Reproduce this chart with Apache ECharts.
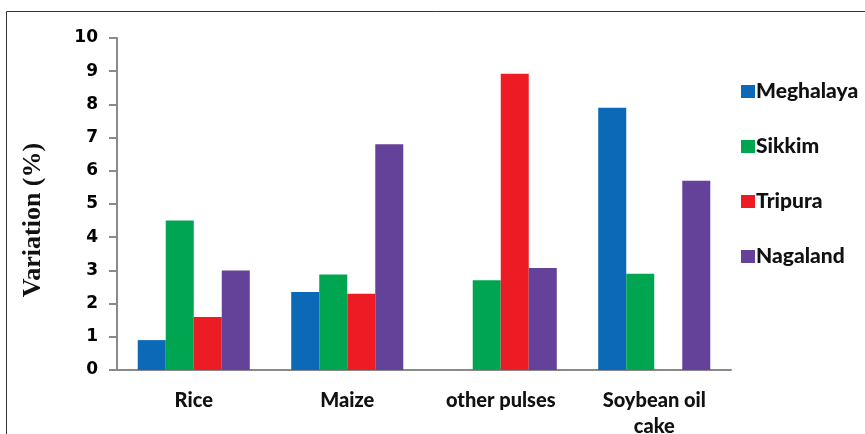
<!DOCTYPE html>
<html><head><meta charset="utf-8">
<script src="https://cdn.jsdelivr.net/npm/echarts@6/dist/echarts.min.js"></script>
<style>html,body{margin:0;padding:0;background:#fff}#c{width:865px;height:434px}</style>
</head><body><div id="c"></div>
<script>
var categories = ['Rice', 'Maize', 'other pulses', 'Soybean oil\ncake'];
var meghalaya = [0.9, 2.35, null, 7.9];
var sikkim = [4.5, 2.88, 2.7, 2.9];
var tripura = [1.6, 2.3, 8.92, null];
var nagaland = [3.0, 6.8, 3.07, 5.7];
var seriesNames = ['Meghalaya', 'Sikkim', 'Tripura', 'Nagaland'];
var yTicks = [0, 1, 2, 3, 4, 5, 6, 7, 8, 9, 10];

var colors = ['#0B69B7', '#00A551', '#ED1C24', '#65429A'];
var chart = echarts.init(document.getElementById('c'));
var data = [meghalaya, sikkim, tripura, nagaland];
chart.setOption({
  animation: false,
  color: colors,
  graphic: [
    {type: 'rect', shape: {x: 6.5, y: 11.5, width: 900, height: 600}, style: {fill: 'none', stroke: '#333', lineWidth: 1}, z: -1},
    {type: 'text', x: 33, y: 220, rotation: Math.PI / 2, style: {text: 'Variation (%)', font: 'bold 26px "Liberation Serif"', fill: '#111', textAlign: 'center', textVerticalAlign: 'middle'}}
  ],
  legend: {
    orient: 'vertical', left: 736, top: 76, itemGap: 34, itemWidth: 14, itemHeight: 13,
    icon: 'rect',
    textStyle: {fontFamily: 'Lato', fontWeight: 900, fontSize: 21, color: '#111', padding: [0, 0, 0, -4]},
    data: seriesNames
  },
  grid: {left: 117, right: 134, top: 38, bottom: 64, outerBoundsMode: 'none', containLabel: false},
  xAxis: {
    type: 'category', data: categories,
    axisLine: {lineStyle: {color: '#8a8a8a', width: 2}},
    axisTick: {show: false},
    axisLabel: {margin: 18, fontFamily: 'Lato', fontWeight: 900, fontSize: 20, color: '#111', lineHeight: 26, interval: 0}
  },
  yAxis: {
    type: 'value', min: yTicks[0], max: yTicks[yTicks.length - 1], interval: 1,
    splitLine: {show: false},
    axisLine: {show: true, lineStyle: {color: '#8a8a8a', width: 2}},
    axisTick: {show: true, length: 8, lineStyle: {color: '#8a8a8a', width: 2}},
    axisLabel: {margin: 19, fontFamily: 'DejaVu Sans', fontWeight: 'bold', fontSize: 17, color: '#000'}
  },
  series: seriesNames.map(function (n, i) {
    return {name: n, type: 'bar', data: data[i], barGap: '0%', barCategoryGap: '27%'};
  })
});
</script></body></html>
